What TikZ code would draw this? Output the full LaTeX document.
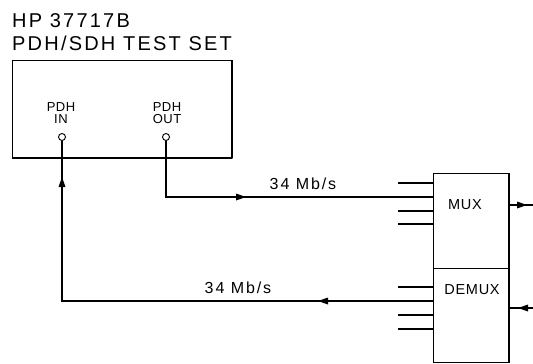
\documentclass[tikz,border=0pt]{standalone}
\usepackage{fontspec}
\setmainfont{Liberation Sans}
\begin{document}
\begin{tikzpicture}[x=1pt,y=-1pt,
  line/.style={line width=1.1pt},
  boxln/.style={draw, line width=1pt, inner sep=0pt},
  title/.style={font=\fontsize{20}{20}\selectfont\addfontfeature{LetterSpace=11}, inner sep=0pt, anchor=west},
  small/.style={font=\fontsize{13}{13}\selectfont\addfontfeature{LetterSpace=4}, inner sep=0pt},
  rate/.style={font=\fontsize{16}{16}\selectfont\addfontfeature{LetterSpace=12}, inner sep=0pt},
  blk/.style={font=\fontsize{14.5}{14.5}\selectfont\addfontfeature{LetterSpace=5}, inner sep=0pt},
  jack/.style={circle, draw, line width=0.9pt, minimum size=7pt, inner sep=0pt},
]
\useasboundingbox (0,0) rectangle (533,364);

% titles
\node[title] (t1) at (12,21) {HP 37717B};
\node[title] (t2) at (12,43) {PDH/SDH TEST SET};

% test set box
\node[boxln, anchor=north west, minimum width=219pt, minimum height=97pt] (ts) at (12,60) {};
\draw[line width=2.6pt, line join=round] (ts.north east) -- (ts.south east) -- (ts.south west);

\node[small] (pin1) at (61,107) {PDH};
\node[small] (pin2) at (61,119) {IN};
\node[small] (pout1) at (167,107) {PDH};
\node[small] (pout2) at (167,119) {OUT};
\node[jack] (in) at (62,137) {};
\node[jack] (out) at (166,137) {};

% MUX / DEMUX
\node[boxln, anchor=north west, minimum width=75pt, minimum height=95pt] (mux) at (433,173) {};
\node[boxln, anchor=north west, minimum width=75pt, minimum height=94pt] (demux) at (433,268) {};
\draw[line width=2.6pt] (mux.north east) -- (demux.south east);
\node[blk] (muxt) at (465,205) {MUX};
\node[blk] (demuxt) at (472,290) {DEMUX};

% connection coordinates
\coordinate (c1) at (166,197);
\coordinate (a1) at (246,197);
\coordinate (muxin) at (433,197);
\coordinate (demuxout) at (433,301);
\coordinate (a2) at (318,301);
\coordinate (c2) at (62,301);
\coordinate (a3) at (62,177);

\draw[line] (out.south) -- (c1) -- (muxin);
\draw[line] (demuxout) -- (c2) -- (in.south);
\fill (a1) -- ++(-10,-3.5) -- ++(0,7) -- cycle;
\fill (a2) -- ++(10,-3.5) -- ++(0,7) -- cycle;
\fill (a3) -- ++(-3.5,10) -- ++(7,0) -- cycle;

\node[rate] (r1) at (303,184) {34 Mb/s};
\node[rate] (r2) at (238,288) {34 Mb/s};

% stub inputs/outputs
\foreach \y/\n in {183/a,211/b,224/c}{
  \coordinate (ms\n) at (398,\y);
  \draw[line] (ms\n) -- (ms\n -| mux.west);
}
\foreach \y/\n in {287/a,315/b,329/c}{
  \coordinate (ds\n) at (398,\y);
  \draw[line] (ds\n) -- (ds\n -| demux.west);
}

\coordinate (mo) at (533,205);
\coordinate (ma) at (527,205);
\coordinate (di) at (533,308);
\coordinate (da) at (518,308);
\draw[line] (mo -| mux.east) -- (mo);
\draw[line] (di) -- (di -| demux.east);
\fill (ma) -- ++(-10,-3.5) -- ++(0,7) -- cycle;
\fill (da) -- ++(10,-3.5) -- ++(0,7) -- cycle;
\end{tikzpicture}
\end{document}
